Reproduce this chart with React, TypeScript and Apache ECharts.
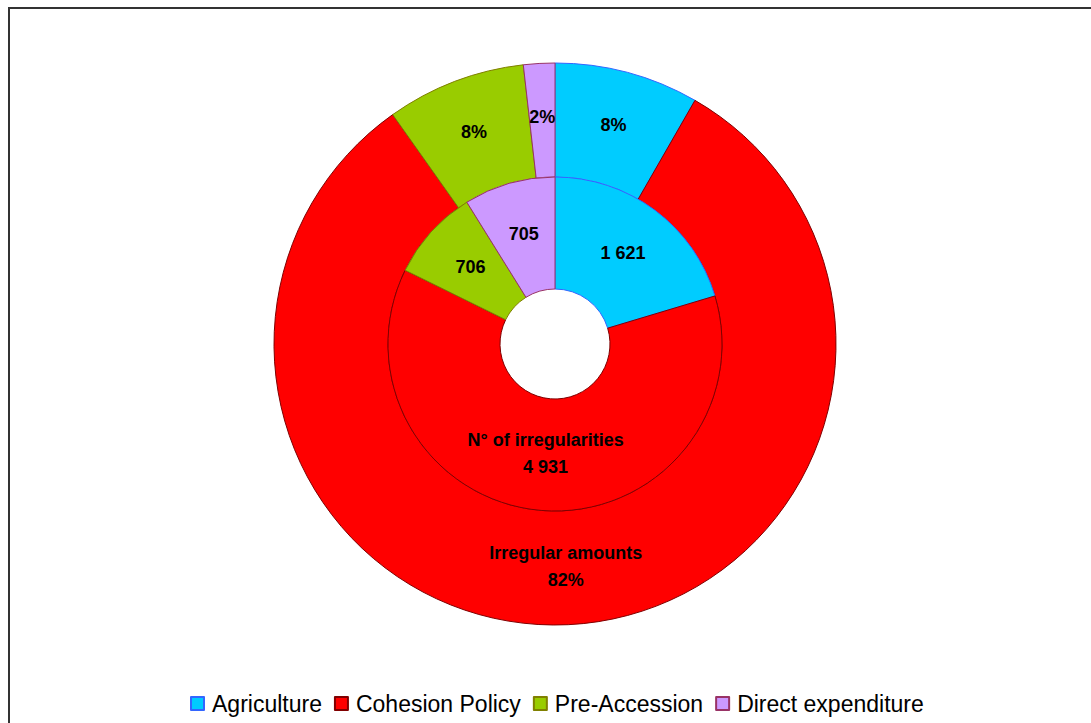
import React, { useEffect, useRef } from "react";
import * as echarts from "echarts";

const categories = ["Agriculture", "Cohesion Policy", "Pre-Accession", "Direct expenditure"];
const irregularityCounts = [1621, 4931, 706, 705];
const amountShares = [8.3, 81.9, 8.0, 1.8];
const fillColors = ["#00CCFF", "#FF0000", "#99CC00", "#CC99FF"];
const borderColors = ["#3366FF", "#800000", "#808000", "#993366"];
const innerTitle = "N° of irregularities";
const outerTitle = "Irregular amounts";

const fmtNum = (v: number) => String(v).replace(/\B(?=(\d{3})+(?!\d))/g, " ");

export default function App() {
  const ref = useRef<HTMLDivElement>(null);
  useEffect(() => {
    if (!ref.current) return;
    const chart = echarts.init(ref.current, null, { renderer: "svg" });
    const font = "'Liberation Sans', Arial, sans-serif";
    const labelBase = {
      show: true,
      position: "inside",
      color: "#000",
      fontFamily: font,
      fontWeight: "bold",
      fontSize: 18,
      lineHeight: 27,
    };
    const center = [555, 344];
    chart.setOption({
      animation: false,
      graphic: [
        {
          type: "rect",
          shape: { x: 9, y: 8, width: 1300, height: 900 },
          style: { fill: "none", stroke: "#333", lineWidth: 2 },
          silent: true,
        },
      ],
      legend: {
        data: categories,
        top: 687,
        left: 185,
        icon: "rect",
        itemWidth: 13,
        itemHeight: 13,
        itemGap: 12,
        textStyle: { fontFamily: font, fontSize: 23, color: "#000", padding: [0, 0, 0, 3] },
      },
      series: [
        {
          type: "pie",
          name: "Irregular amounts",
          center,
          radius: [167, 281],
          startAngle: 90,
          clockwise: true,
          silent: true,
          labelLine: { show: false },
          data: categories.map((c, i) => ({
            name: c,
            value: amountShares[i],
            itemStyle: { color: fillColors[i], borderColor: borderColors[i], borderWidth: 1 },
            label: {
              ...labelBase,
              offset: i === 1 ? [0, -4] : [0, 0],
              formatter: () =>
                i === 1
                  ? outerTitle + "\n" + Math.round(amountShares[i]) + "%"
                  : Math.round(amountShares[i]) + "%",
            },
          })),
        },
        {
          type: "pie",
          name: "N° of irregularities",
          center,
          radius: [55, 167],
          startAngle: 90,
          clockwise: true,
          silent: true,
          labelLine: { show: false },
          data: categories.map((c, i) => ({
            name: c,
            value: irregularityCounts[i],
            itemStyle: { color: fillColors[i], borderColor: borderColors[i], borderWidth: 1 },
            label: {
              ...labelBase,
              offset: i === 1 ? [0, -4] : [0, 0],
              formatter: () =>
                i === 1
                  ? innerTitle + "\n" + fmtNum(irregularityCounts[i])
                  : fmtNum(irregularityCounts[i]),
            },
          })),
        },
      ],
    });
    return () => chart.dispose();
  }, []);
  return (
    <div
      ref={ref}
      style={{ position: "fixed", left: 0, top: 0, width: 1091, height: 723, background: "#fff" }}
    />
  );
}
